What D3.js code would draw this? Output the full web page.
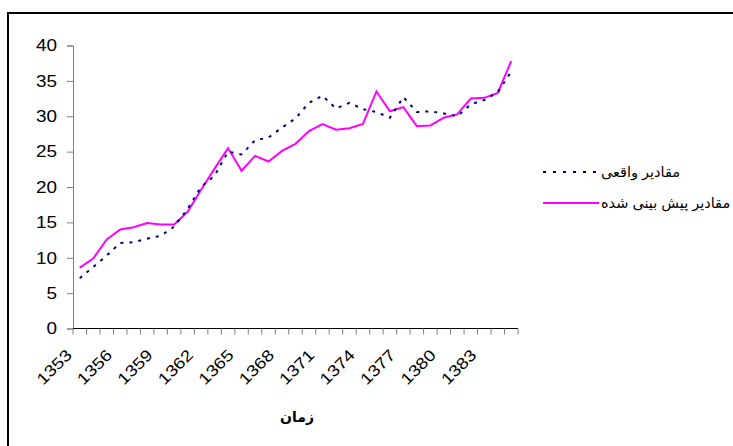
<!DOCTYPE html>
<html><head><meta charset="utf-8">
<script src="https://cdn.jsdelivr.net/npm/d3@7"></script>
<style>
html,body{margin:0;padding:0;background:#fff;overflow:hidden;}
text{font-family:"Liberation Sans","DejaVu Sans",Arial,sans-serif;}
</style></head>
<body>
<svg id="chart" width="733" height="446"></svg>
<script>
const years = d3.range(1353, 1386).map(String);
const actual = [7.1, 8.7, 10.3, 12.1, 12.2, 12.7, 13.1, 14.4, 16.9, 20.0, 21.6, 25.0, 24.6, 26.6, 27.0, 28.4, 29.7, 31.9, 32.9, 31.1, 31.9, 31.0, 30.6, 29.8, 32.7, 30.6, 30.7, 30.4, 30.0, 31.7, 32.3, 33.4, 36.3];
const predicted = [8.6, 9.9, 12.6, 14.0, 14.3, 14.9, 14.7, 14.7, 16.5, 19.6, 22.6, 25.5, 22.3, 24.4, 23.6, 25.1, 26.1, 27.9, 28.9, 28.1, 28.3, 28.9, 33.5, 30.7, 31.3, 28.6, 28.7, 29.8, 30.3, 32.5, 32.6, 33.3, 37.8];
const yTicks = [0, 5, 10, 15, 20, 25, 30, 35, 40];
const xLabelYears = years.filter((d, i) => i % 3 === 0 && i < 31);
const seriesNames = ["مقادیر واقعی", "مقادیر پیش بینی شده"];
const xTitle = "زمان";

const svg = d3.select("#chart");
// outer frame (top and left edges visible)
svg.append("line").attr("x1", 7).attr("x2", 740).attr("y1", 13).attr("y2", 13)
  .attr("stroke", "#000").attr("stroke-width", 2);
svg.append("line").attr("x1", 8).attr("x2", 8).attr("y1", 12).attr("y2", 450)
  .attr("stroke", "#000").attr("stroke-width", 2);

const x = d3.scaleBand().domain(years).range([73, 518]);
const y = d3.scaleLinear().domain([0, 40]).range([328.5, 45.5]);

// y axis
const yAxis = svg.append("g").attr("transform", "translate(73,0)")
  .call(d3.axisLeft(y).tickValues(yTicks).tickSize(6).tickFormat(d3.format("d")));
yAxis.select(".domain").attr("stroke", "#808080");
yAxis.selectAll(".tick line").attr("stroke", "#808080");
yAxis.selectAll(".tick text").remove();
svg.append("g").selectAll("text").data(yTicks).join("text")
  .attr("transform", d => `translate(57,${y(d)}) scale(1.18,1)`)
  .attr("text-anchor", "end").attr("dy", "0.36em").attr("font-size", 16)
  .attr("fill", "#000").text(d => d);

// x axis line
svg.append("line").attr("x1", 73).attr("x2", 518).attr("y1", y(0)).attr("y2", y(0))
  .attr("stroke", "#000").attr("stroke-width", 1);
// x tick marks at band boundaries
const bounds = years.map(d => x(d)).concat([x(years[years.length - 1]) + x.bandwidth()]);
svg.append("g").selectAll("line").data(bounds).join("line")
  .attr("x1", d => d).attr("x2", d => d).attr("y1", y(0)).attr("y2", y(0) + 6)
  .attr("stroke", "#808080");
// x tick labels
svg.append("g").selectAll("text").data(xLabelYears).join("text")
  .attr("transform", d => `translate(${x(d) + x.bandwidth() / 2 - 11},${y(0) + 23.5}) rotate(-45) scale(1.18,1)`)
  .attr("text-anchor", "end").attr("font-size", 16).attr("dy", "0.36em")
  .text(d => d);

// x title
svg.append("text").attr("x", 297).attr("y", 422).attr("text-anchor", "middle")
  .attr("font-size", 14).attr("font-weight", "bold").text(xTitle);

const line = d3.line().x((d, i) => x(years[i]) + x.bandwidth() / 2).y(d => y(d));
svg.append("path").datum(predicted).attr("d", line).attr("fill", "none")
  .attr("stroke", "#FF00FF").attr("stroke-width", 2).attr("stroke-linejoin", "miter");
svg.append("path").datum(actual).attr("d", line).attr("fill", "none")
  .attr("stroke", "#000080").attr("stroke-width", 2).attr("stroke-dasharray", "3,6");

// legend
const leg = svg.append("g");
const ly = [172, 203];
leg.append("line").attr("x1", 543).attr("x2", 600).attr("y1", ly[0]).attr("y2", ly[0])
  .attr("stroke", "#000080").attr("stroke-width", 2).attr("stroke-dasharray", "3,7");
leg.append("line").attr("x1", 543).attr("x2", 599).attr("y1", ly[1]).attr("y2", ly[1])
  .attr("stroke", "#FF00FF").attr("stroke-width", 2);
seriesNames.forEach((n, i) => {
  leg.append("text").attr("x", 601).attr("y", ly[i])
    .attr("dy", "0.35em").attr("font-size", 14.5).attr("text-anchor", "start")
    .attr("direction", "ltr").text(n);
});
</script>
</body></html>
